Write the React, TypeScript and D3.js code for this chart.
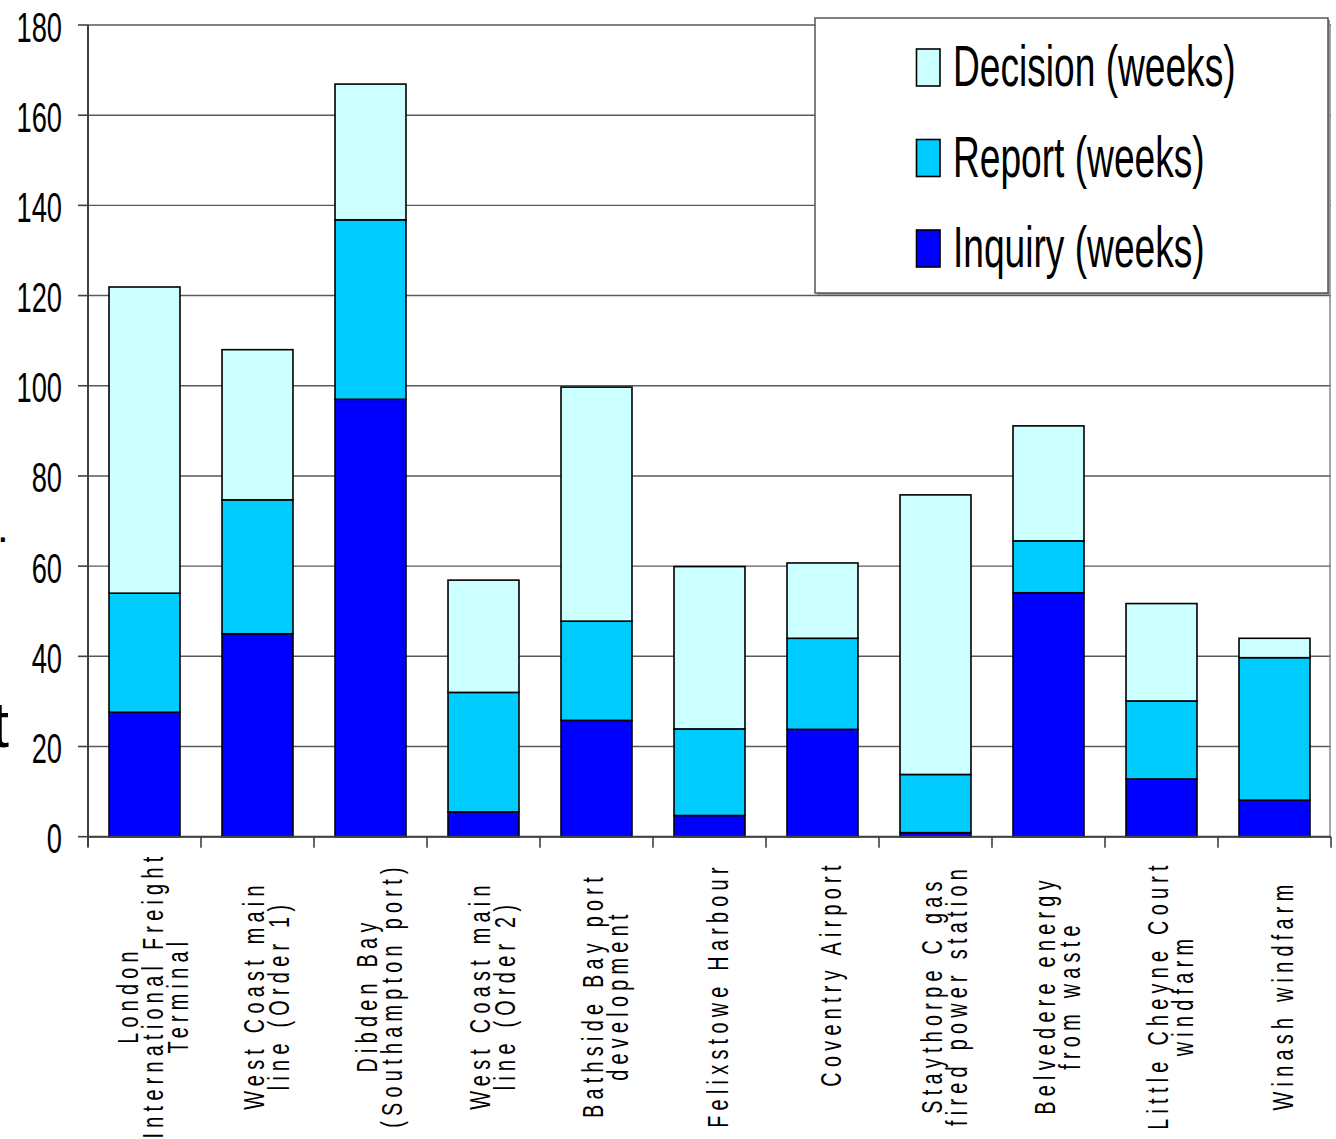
import React from "react";
import * as d3 from "d3";

const categories: string[][] = [
  ["London", "International Freight", "Terminal"],
  ["West Coast main", "line (Order 1)"],
  ["Dibden Bay", "(Southampton port)"],
  ["West Coast main", "line (Order 2)"],
  ["Bathside Bay port", "development"],
  ["Felixstowe Harbour"],
  ["    Coventry Airport"],
  ["Staythorpe C gas", "fired power station"],
  ["Belvedere energy", "from waste"],
  ["Little Cheyne Court", "windfarm"],
  ["Winash windfarm"],
];

const inquiry = [27.6, 45, 97, 5.5, 25.8, 4.7, 23.8, 0.9, 54.1, 12.8, 8.1];
const report = [26.4, 29.7, 39.8, 26.5, 22, 19.2, 20.2, 12.9, 11.5, 17.3, 31.6];
const decision = [67.9, 33.3, 30.1, 24.9, 51.9, 36, 16.7, 62, 25.5, 21.6, 4.3];

const seriesNames = ["Inquiry (weeks)", "Report (weeks)", "Decision (weeks)"];
const seriesColors = ["#0000FF", "#00CCFF", "#CCFFFF"];
const legendOrder = [2, 1, 0];

const yTicks = [0, 20, 40, 60, 80, 100, 120, 140, 160, 180];

const W = 1336;
const H = 1139;
const FONT = "'Liberation Sans', Arial, Helvetica, sans-serif";

export default function App() {
  const left = 88;
  const right = 1331;
  const top = 25;
  const bottom = 836.7;

  const x = d3
    .scaleBand<number>()
    .domain(d3.range(categories.length))
    .range([left, right])
    .paddingInner(0.372)
    .paddingOuter(0.186);

  const y = d3.scaleLinear().domain([0, 180]).range([bottom, top]);

  const rows = categories.map((_, i) => ({
    i,
    s0: inquiry[i],
    s1: report[i],
    s2: decision[i],
  }));
  const stack = d3.stack<any>().keys(["s0", "s1", "s2"]);
  const layers = stack(rows);

  const step = x.step();
  const edges = d3.range(categories.length + 1).map((k) => left + k * step);

  return (
    <svg
      width={W}
      height={H}
      viewBox={`0 0 ${W} ${H}`}
      style={{ position: "absolute", left: 0, top: 0, background: "#fff" }}
    >
      <rect x={0} y={0} width={W} height={H} fill="#fff" />

      {/* cut-off text on the far left */}
      <text x={9} y={747} fontFamily={FONT} fontSize={64} textAnchor="end" fill="#000">
        t
      </text>
      <text x={-3} y={542} fontFamily={FONT} fontSize={42} fill="#000">
        .
      </text>

      {/* gridlines */}
      {yTicks.map((t) => (
        <line
          key={"g" + t}
          x1={left}
          x2={right}
          y1={y(t)}
          y2={y(t)}
          stroke="#5a5a5a"
          strokeWidth={1.4}
        />
      ))}
      {/* right border of plot */}
      <line x1={right - 1} x2={right - 1} y1={top} y2={bottom} stroke="#808080" strokeWidth={1.4} />

      {/* bars */}
      {layers.map((layer, li) =>
        layer.map((d, i) => (
          <rect
            key={`b${li}-${i}`}
            x={x(i)!}
            y={y(d[1])}
            width={x.bandwidth()}
            height={Math.max(0, y(d[0]) - y(d[1]))}
            fill={seriesColors[li]}
            stroke="#000"
            strokeWidth={1.6}
          />
        ))
      )}

      {/* y axis */}
      <line x1={left} x2={left} y1={top} y2={bottom + 10} stroke="#404040" strokeWidth={2} />
      {yTicks.map((t) => (
        <g key={"yt" + t}>
          <line x1={left - 10} x2={left} y1={y(t)} y2={y(t)} stroke="#404040" strokeWidth={1.6} />
          <g transform={`translate(62, ${y(t) + 16.5}) scale(0.65, 1)`}>
            <text textAnchor="end" fontFamily={FONT} fontSize={42} fill="#000">
              {t}
            </text>
          </g>
        </g>
      ))}

      {/* x axis */}
      <line x1={left} x2={right} y1={bottom} y2={bottom} stroke="#404040" strokeWidth={2} />
      {edges.map((ex, k) => (
        <line
          key={"xt" + k}
          x1={ex}
          x2={ex}
          y1={bottom}
          y2={bottom + 11}
          stroke="#404040"
          strokeWidth={1.6}
        />
      ))}

      {/* category labels */}
      {categories.map((lines, i) => {
        const cx = x(i)! + x.bandwidth() / 2 + 1;
        const n = lines.length;
        return (
          <g key={"c" + i}>
            {lines.map((ln, j) => {
              const bx = cx + 17.5 + (j - (n - 1) / 2) * 25;
              return (
                <g key={j} transform={`translate(${bx}, 995) rotate(-90) scale(0.66, 1)`}>
                  <text
                    textAnchor="middle"
                    fontFamily={FONT}
                    fontSize={30}
                    letterSpacing={8}
                    fill="#000"
                    style={{ whiteSpace: "pre" }}
                  >
                    {ln}
                  </text>
                </g>
              );
            })}
          </g>
        );
      })}

      {/* legend */}
      <rect x={817} y={20} width={513} height={275} fill="#9a9a9a" />
      <rect x={815} y={18} width={513} height={275} fill="#fff" stroke="#555" strokeWidth={1.5} />
      {legendOrder.map((si, k) => {
        const base = 86 + k * 90.5;
        return (
          <g key={"l" + si}>
            <rect
              x={916.5}
              y={base - 37}
              width={23.5}
              height={37}
              fill={seriesColors[si]}
              stroke="#000"
              strokeWidth={1.6}
            />
            <g transform={`translate(953, ${base}) scale(0.64, 1)`}>
              <text fontFamily={FONT} fontSize={58} fill="#000">
                {seriesNames[si]}
              </text>
            </g>
          </g>
        );
      })}
    </svg>
  );
}
